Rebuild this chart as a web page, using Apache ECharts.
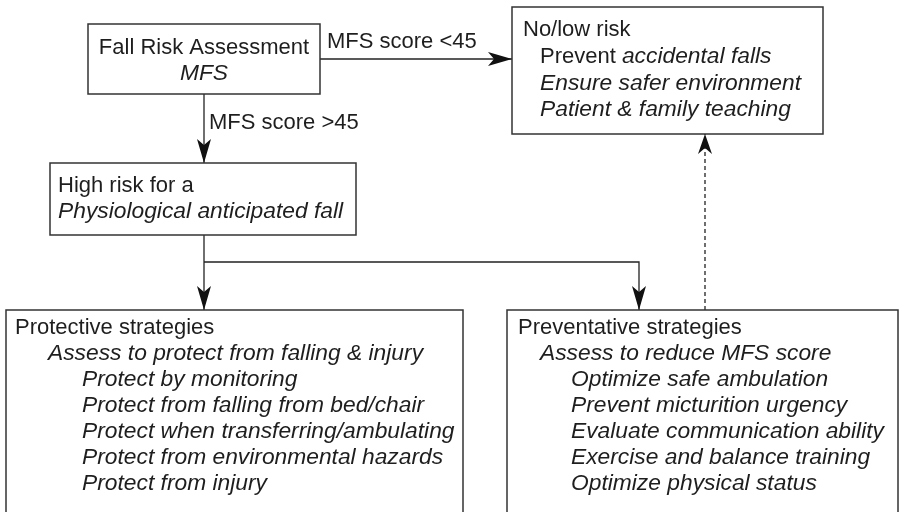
<!DOCTYPE html>
<html><head><meta charset="utf-8">
<script src="https://cdn.jsdelivr.net/npm/echarts@6/dist/echarts.min.js"></script>
<style>html,body{margin:0;padding:0;background:#fff}#c{width:903px;height:512px}</style>
</head><body><div id="c"></div>
<script>
// ---- Content (text of each node, in reading order) ----
// {n|...} = upright text, {i|...} = italic text
const nodeNames = ['assess', 'lowRisk', 'highRisk', 'protective', 'preventative'];
const assessLines = ['{n|Fall Risk Assessment}', '{i|MFS}'];
const lowRiskLines = ['{n|No/low risk}', '{n|Prevent }{i|accidental falls}', '{i|Ensure safer environment}', '{i|Patient & family teaching}'];
const highRiskLines = ['{n|High risk for a}', '{i|Physiological anticipated fall}'];
const protectiveLines = ['{n|Protective strategies}', '{i|Assess to protect from falling & injury}',
  '{i|Protect by monitoring}', '{i|Protect from falling from bed/chair}', '{i|Protect when transferring/ambulating}',
  '{i|Protect from environmental hazards}', '{i|Protect from injury}'];
const preventativeLines = ['{n|Preventative strategies}', '{i|Assess to reduce MFS score}',
  '{i|Optimize safe ambulation}', '{i|Prevent micturition urgency}', '{i|Evaluate communication ability}',
  '{i|Exercise and balance training}', '{i|Optimize physical status}'];
const nodeLines = [assessLines, lowRiskLines, highRiskLines, protectiveLines, preventativeLines];

// edges: from -> to, label, dashed
const edgeFrom = ['assess', 'assess', 'highRisk', 'highRisk', 'preventative'];
const edgeTo = ['lowRisk', 'highRisk', 'protective', 'preventative', 'lowRisk'];
const edgeLabels = ['MFS score <45', 'MFS score >45', '', '', ''];
const edgeDashed = [false, false, false, false, true];

// ---- Layout (diagram units on hidden axes: x 0..903, y 0..512 top-down) ----
const layoutBoxes = [[88, 24, 320, 94], [512, 7, 823, 134], [50, 163, 356, 235], [6, 310, 463, 560], [507, 310, 898, 560]];
const layoutTextX = [[204, 204], [523, 540, 540, 540], [58, 58], [15, 48, 82, 82, 82, 82, 82], [518, 540, 571, 571, 571, 571, 571]];
const layoutTextY = [[48, 74], [30, 57, 84, 110], [186, 212], [328, 354, 380, 406, 432, 458, 484], [328, 354, 380, 406, 432, 458, 484]];
const layoutTextAlign = ['center', 'left', 'left', 'left', 'left'];
const layoutEdges = [
  [[320, 59], [512, 59]],
  [[204, 94], [204, 163]],
  [[204, 235], [204, 310]],
  [[204, 262], [639, 262], [639, 310]],
  [[705, 310], [705, 134]]
];
const layoutEdgeLabelPos = [[327, 42], [209, 123], null, null, null];

const FONT = '"Liberation Sans", Arial, sans-serif';
const FS = 22;
const FS_I = 22.8;
const TEXT_COLOR = '#1e1e1e';
const rich = {
  n: { fontFamily: FONT, fontSize: FS, fontStyle: 'normal', fill: TEXT_COLOR, color: TEXT_COLOR },
  i: { fontFamily: FONT, fontSize: FS_I, fontStyle: 'italic', fill: TEXT_COLOR, color: TEXT_COLOR }
};

const chart = echarts.init(document.getElementById('c'), null, { renderer: 'canvas' });

function boxRender(params, api) {
  const idx = params.dataIndex;
  const p0 = api.coord([api.value(0), api.value(1)]);
  const p1 = api.coord([api.value(2), api.value(3)]);
  const children = [{
    type: 'rect',
    shape: { x: p0[0], y: p0[1], width: p1[0] - p0[0], height: p1[1] - p0[1] },
    style: { fill: '#fff', stroke: '#333', lineWidth: 1.5 }
  }];
  const lines = nodeLines[idx];
  lines.forEach((t, k) => {
    const p = api.coord([layoutTextX[idx][k], layoutTextY[idx][k]]);
    children.push({
      type: 'text', x: p[0], y: p[1],
      style: {
        text: t, rich: rich, font: FS + 'px ' + FONT, fill: TEXT_COLOR,
        align: layoutTextAlign[idx], textAlign: layoutTextAlign[idx],
        verticalAlign: 'middle', textVerticalAlign: 'middle'
      }
    });
  });
  return { type: 'group', children: children };
}

function edgeRender(params, api) {
  const idx = params.dataIndex;
  const pts = layoutEdges[idx].map(p => api.coord(p));
  const children = [];
  children.push({
    type: 'polyline', shape: { points: pts },
    style: { stroke: '#222', lineWidth: 1.3, fill: null, lineDash: edgeDashed[idx] ? [4, 3] : null }
  });
  const end = pts[pts.length - 1], prev = pts[pts.length - 2];
  let dx = end[0] - prev[0], dy = end[1] - prev[1];
  const L = Math.sqrt(dx * dx + dy * dy); dx /= L; dy /= L;
  const len = edgeDashed[idx] ? 20 : 24, hw = 7, notch = 6;
  const nx = -dy, ny = dx;
  const bx = end[0] - dx * len, by = end[1] - dy * len;
  children.push({
    type: 'polygon',
    shape: { points: [end, [bx + nx * hw, by + ny * hw], [end[0] - dx * (len - notch), end[1] - dy * (len - notch)], [bx - nx * hw, by - ny * hw]] },
    style: { fill: '#111', stroke: null }
  });
  if (edgeLabels[idx]) {
    const lp = api.coord(layoutEdgeLabelPos[idx]);
    children.push({
      type: 'text', x: lp[0], y: lp[1],
      style: { text: edgeLabels[idx], font: FS + 'px ' + FONT, fill: TEXT_COLOR, align: 'left', textAlign: 'left', verticalAlign: 'middle', textVerticalAlign: 'middle' }
    });
  }
  return { type: 'group', children: children };
}

chart.setOption({
  animation: false,
  backgroundColor: '#fff',
  grid: { left: 0, right: 0, top: 0, bottom: 0 },
  xAxis: { type: 'value', min: 0, max: 903, show: false },
  yAxis: { type: 'value', min: 0, max: 512, inverse: true, show: false },
  series: [
    {
      type: 'custom', name: 'edges', coordinateSystem: 'cartesian2d', clip: false,
      data: edgeFrom.map((f, i) => [layoutEdges[i][0][0], layoutEdges[i][0][1]]),
      encode: { x: 0, y: 1 },
      renderItem: edgeRender, z: 1
    },
    {
      type: 'custom', name: 'nodes', coordinateSystem: 'cartesian2d', clip: false,
      data: nodeNames.map((n, i) => layoutBoxes[i]),
      encode: { x: [0, 2], y: [1, 3] },
      renderItem: boxRender, z: 2
    }
  ]
});
</script>
</body></html>
